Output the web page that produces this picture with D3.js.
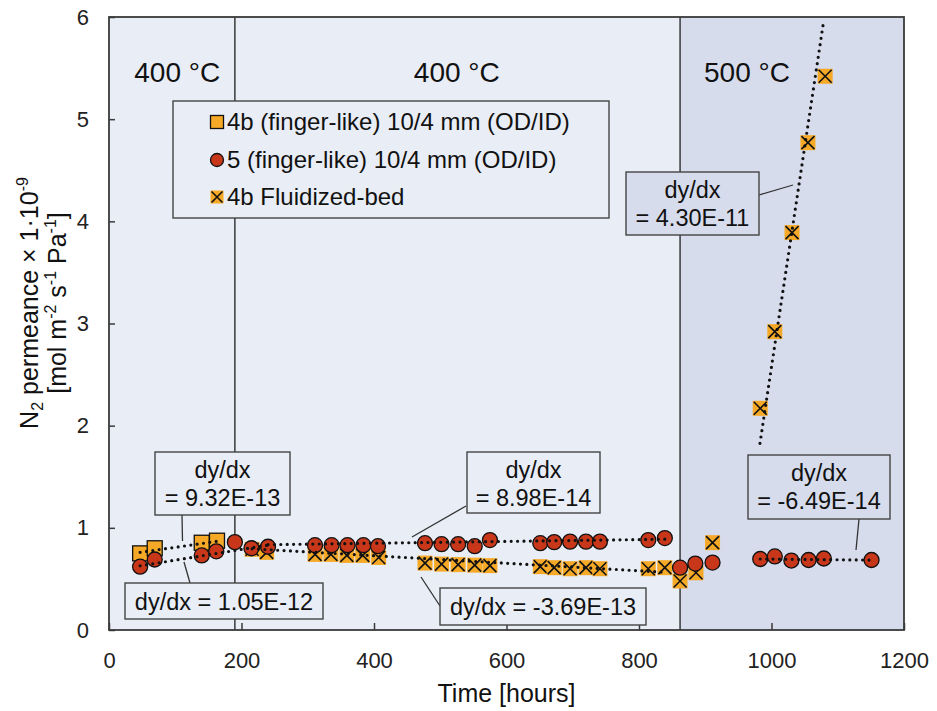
<!DOCTYPE html>
<html>
<head>
<meta charset="utf-8">
<script src="https://cdn.jsdelivr.net/npm/d3@7"></script>
<style>
  html, body { margin: 0; padding: 0; background: #fff; }
  svg { display: block; font-family: "Liberation Sans", Arial, sans-serif; }
</style>
</head>
<body>
<svg id="chart" width="937" height="711"></svg>
<script>
// ---- data -------------------------------------------------------------
// 4b (finger-like) 10/4 mm (OD/ID)
const squareHours = [47, 69, 140, 163];
const squareVals  = [0.75, 0.80, 0.854, 0.874];

// 5 (finger-like) 10/4 mm (OD/ID)
const circleHours = [47, 69, 140, 162, 190, 215, 240, 311, 336, 360, 384, 406,
  477, 502, 527, 552, 575, 651, 672, 696, 720, 741, 814, 839, 862, 885, 911,
  983, 1005, 1030, 1056, 1079, 1151];
const circleVals  = [0.62, 0.69, 0.73, 0.77, 0.86, 0.80, 0.815, 0.83, 0.83, 0.83, 0.83, 0.82,
  0.85, 0.84, 0.84, 0.82, 0.88, 0.85, 0.86, 0.865, 0.865, 0.865, 0.88, 0.90, 0.61, 0.65, 0.66,
  0.695, 0.72, 0.68, 0.685, 0.70, 0.685];

// 4b Fluidized-bed
const fluidHours = [216, 238, 311, 335, 359, 383, 407, 477, 502, 527, 552, 575,
  651, 672, 696, 720, 741, 814, 839, 862, 886, 911, 983, 1005, 1031, 1055, 1081];
const fluidVals  = [0.79, 0.76, 0.74, 0.74, 0.73, 0.73, 0.71, 0.655, 0.645, 0.64, 0.635, 0.63,
  0.62, 0.61, 0.60, 0.61, 0.60, 0.60, 0.61, 0.48, 0.56, 0.855, 2.17, 2.92, 3.89, 4.77, 5.42];

// linear trends: slope dy/dx [mol m-2 s-1 Pa-1 per hour], start hour, end hour, value at start (x 1e-9)
const trendSlopes = [9.32e-13, 1.05e-12, 8.98e-14, -3.69e-13, 4.30e-11, -6.49e-14];
const trendStart  = [47, 47, 240, 216, 982.6, 983];
const trendEnd    = [163, 240, 839, 839, 1078, 1151];
const trendStartVal = [0.76, 0.628, 0.835, 0.795, 1.827, 0.695];
const trendLabels = ["9.32E-13", "1.05E-12", "8.98E-14", "-3.69E-13", "4.30E-11", "-6.49E-14"];

// temperature periods
const periodBreaks = [190, 862];
const periodLabels = ["400 °C", "400 °C", "500 °C"];
const periodLabelHours = [103, 525, 963];

const xTicks = [0, 200, 400, 600, 800, 1000, 1200];
const yTicks = [0, 1, 2, 3, 4, 5, 6];
const seriesNames = ["4b (finger-like) 10/4 mm (OD/ID)", "5 (finger-like) 10/4 mm (OD/ID)", "4b Fluidized-bed"];

// ---- layout -----------------------------------------------------------
const svg = d3.select("#chart");
const L = 109, R = 904, T = 17, B = 630;
const x = d3.scaleLinear().domain([0, 1200]).range([L, R]);
const y = d3.scaleLinear().domain([0, 6]).range([B, T]);

const bgLight = "#e9edf6", bgDark = "#d6dcec";
const orange = "#f5a927", red = "#c9371a", frame = "#3a3a3a";
const fontFam = "Liberation Sans, Arial, sans-serif";

// backgrounds
svg.append("rect").attr("x", L).attr("y", T).attr("width", x(periodBreaks[1]) - L).attr("height", B - T).attr("fill", bgLight);
svg.append("rect").attr("x", x(periodBreaks[1])).attr("y", T).attr("width", R - x(periodBreaks[1])).attr("height", B - T).attr("fill", bgDark);

// period separators
periodBreaks.forEach(h => {
  svg.append("line").attr("x1", x(h)).attr("x2", x(h)).attr("y1", T).attr("y2", B)
    .attr("stroke", frame).attr("stroke-width", 1.5);
});

// axes
const xAxis = d3.axisBottom(x).tickValues(xTicks).tickFormat(d3.format("d"))
  .tickSizeInner(-7).tickSizeOuter(0).tickPadding(0);
const gx = svg.append("g").attr("transform", `translate(0,${B})`).call(xAxis);
gx.select(".domain").remove();
gx.selectAll(".tick line").attr("stroke", frame).attr("stroke-width", 1.5);
gx.selectAll(".tick text").attr("font-size", 22).attr("fill", "#222").attr("y", 38).attr("dy", 0)
  .attr("font-family", fontFam);

const yAxis = d3.axisLeft(y).tickValues(yTicks).tickFormat(d3.format("d"))
  .tickSizeInner(-6).tickSizeOuter(0).tickPadding(20);
const gy = svg.append("g").attr("transform", `translate(${L},0)`).call(yAxis);
gy.select(".domain").remove();
gy.selectAll(".tick line").attr("stroke", frame).attr("stroke-width", 1.5);
gy.selectAll(".tick text").attr("font-size", 22).attr("fill", "#222").attr("x", -20)
  .attr("font-family", fontFam);

// plot frame
svg.append("rect").attr("x", L).attr("y", T).attr("width", R - L).attr("height", B - T)
  .attr("fill", "none").attr("stroke", frame).attr("stroke-width", 1.8);

// temperature labels
periodLabels.forEach((t, i) => {
  svg.append("text").attr("x", x(periodLabelHours[i])).attr("y", 82).attr("text-anchor", "middle")
    .attr("font-size", 28).attr("fill", "#111").text(t);
});

// markers
const S = 15;
function drawFluid(g, cx, cy, s) {
  g.append("rect").attr("x", cx - s / 2).attr("y", cy - s / 2).attr("width", s).attr("height", s).attr("fill", orange);
  g.append("path").attr("d", `M${cx - s / 2 + 1},${cy - s / 2 + 1}L${cx + s / 2 - 1},${cy + s / 2 - 1}M${cx + s / 2 - 1},${cy - s / 2 + 1}L${cx - s / 2 + 1},${cy + s / 2 - 1}`)
    .attr("stroke", "#111").attr("stroke-width", 1.6).attr("fill", "none");
}
function drawSquare(g, cx, cy, s) {
  g.append("rect").attr("x", cx - s / 2).attr("y", cy - s / 2).attr("width", s).attr("height", s)
    .attr("fill", orange).attr("stroke", "#111").attr("stroke-width", 1.3);
}
function drawCircle(g, cx, cy, s) {
  g.append("circle").attr("cx", cx).attr("cy", cy).attr("r", s / 2)
    .attr("fill", red).attr("stroke", "#111").attr("stroke-width", 1.3);
}

const gFluid = svg.append("g");
fluidHours.forEach((h, i) => drawFluid(gFluid, x(h), y(fluidVals[i]), S));
const gSq = svg.append("g");
squareHours.forEach((h, i) => drawSquare(gSq, x(h), y(squareVals[i]), S));
const gCi = svg.append("g");
circleHours.forEach((h, i) => drawCircle(gCi, x(h), y(circleVals[i]), S));

// trend lines (dotted, drawn above the markers)
const line = d3.line().x(d => x(d[0])).y(d => y(d[1]));
trendSlopes.forEach((s, i) => {
  const k = s * 1e9;
  const h0 = trendStart[i], h1 = trendEnd[i];
  const pts = [[h0, trendStartVal[i]], [h1, trendStartVal[i] + k * (h1 - h0)]];
  svg.append("path").attr("d", line(pts)).attr("fill", "none").attr("stroke", "#111")
    .attr("stroke-width", 3.2).attr("stroke-linecap", "round").attr("stroke-dasharray", "0 6.4");
});

// slope annotations
const notes = [
  { i: 0, box: [155, 452, 290, 515], two: true,  link: [182, 515, 182.5, 541] },
  { i: 1, box: [125, 583, 323, 619], two: false, link: [190, 583, 184, 562] },
  { i: 2, box: [467, 452, 600, 513], two: true,  link: [466, 506, 412, 537] },
  { i: 3, box: [440, 588, 646, 625], two: false, link: [421, 577, 440, 606] },
  { i: 4, box: [626, 172, 759, 235], two: true,  link: [759, 195, 793, 185] },
  { i: 5, box: [748, 455, 890, 519], two: true,  link: [859, 519, 856, 550] }
];
const noteSize = 23.5;
notes.forEach(n => {
  const [x0, y0, x1, y1] = n.box;
  svg.append("line").attr("x1", n.link[0]).attr("y1", n.link[1]).attr("x2", n.link[2]).attr("y2", n.link[3])
    .attr("stroke", "#333").attr("stroke-width", 1.3);
  svg.append("rect").attr("x", x0).attr("y", y0).attr("width", x1 - x0).attr("height", y1 - y0)
    .attr("fill", x0 > x(periodBreaks[1]) - 60 ? bgDark : bgLight).attr("stroke", "#444").attr("stroke-width", 1.4);
  const cx = (x0 + x1) / 2;
  if (n.two) {
    svg.append("text").attr("x", cx).attr("y", y0 + 26).attr("text-anchor", "middle").attr("font-size", noteSize).attr("fill", "#111").text("dy/dx");
    svg.append("text").attr("x", cx).attr("y", y0 + 54).attr("text-anchor", "middle").attr("font-size", noteSize).attr("fill", "#111").text("= " + trendLabels[n.i]);
  } else {
    svg.append("text").attr("x", cx).attr("y", (y0 + y1) / 2 + 8.5).attr("text-anchor", "middle").attr("font-size", noteSize).attr("fill", "#111").text("dy/dx = " + trendLabels[n.i]);
  }
});

// legend
const lg = svg.append("g");
lg.append("rect").attr("x", 173).attr("y", 101).attr("width", 436).attr("height", 117)
  .attr("fill", bgLight).attr("stroke", "#444").attr("stroke-width", 1.4);
const legendRows = [122, 160, 197];
const legendDraw = [drawSquare, drawCircle, drawFluid];
seriesNames.forEach((name, i) => {
  legendDraw[i](lg, 217, legendRows[i], 13);
  lg.append("text").attr("x", 227).attr("y", legendRows[i] + 8).attr("font-size", 24).attr("fill", "#111").text(name);
});

// axis titles
svg.append("text").attr("x", (L + R) / 2).attr("y", 702).attr("text-anchor", "middle")
  .attr("font-size", 25).attr("fill", "#111").text("Time [hours]");

const yt = svg.append("text").attr("transform", `translate(0,303) rotate(-90)`)
  .attr("text-anchor", "middle").attr("font-size", 25).attr("fill", "#111");
const t1 = yt.append("tspan").attr("x", 0).attr("y", 38);
t1.append("tspan").text("N");
t1.append("tspan").attr("font-size", 16).attr("dy", 5).text("2");
t1.append("tspan").attr("dy", -5).text(" permeance × 1·10");
t1.append("tspan").attr("font-size", 16).attr("dy", -10).text("-9");
const t2 = yt.append("tspan").attr("x", 0).attr("y", 66);
t2.append("tspan").text("[mol m");
t2.append("tspan").attr("font-size", 16).attr("dy", -10).text("-2");
t2.append("tspan").attr("dy", 10).text(" s");
t2.append("tspan").attr("font-size", 16).attr("dy", -10).text("-1");
t2.append("tspan").attr("dy", 10).text(" Pa");
t2.append("tspan").attr("font-size", 16).attr("dy", -10).text("-1");
t2.append("tspan").attr("dy", 10).text("]");
</script>
</body>
</html>
